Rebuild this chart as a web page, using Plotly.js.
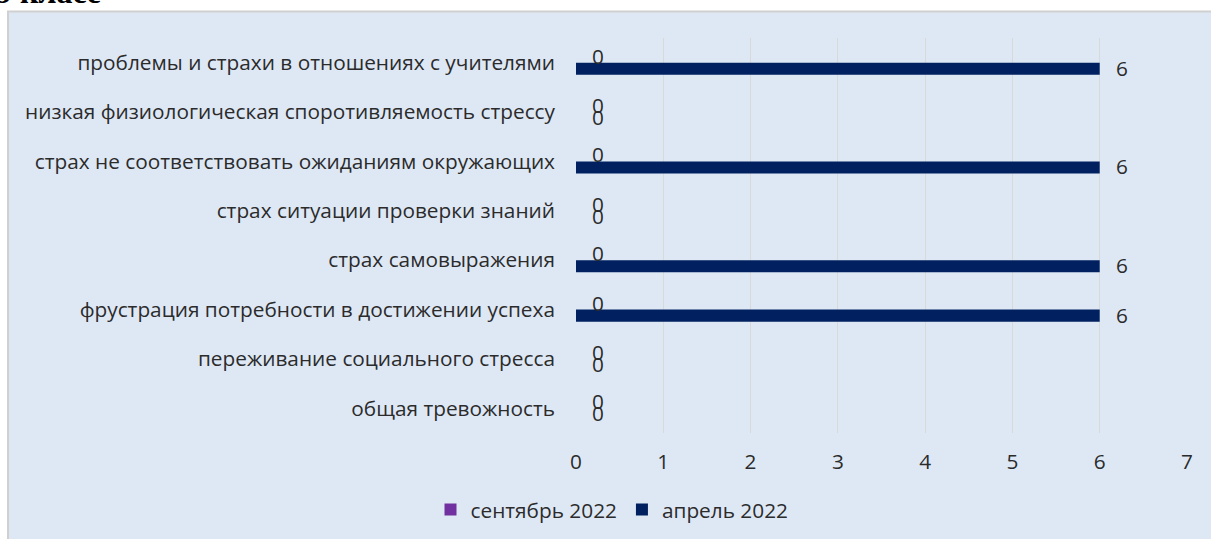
<!DOCTYPE html>
<html>
<head>
<meta charset="utf-8">
<script src="https://cdn.plot.ly/plotly-3.0.1.min.js"></script>
<style>
html,body{margin:0;padding:0;background:#fff;}
#chart{width:1211px;height:539px;}
</style>
</head>
<body>
<div id="chart"></div>
<script>
const categories = [
  "проблемы и страхи в отношениях с учителями",
  "низкая физиологическая споротивляемость стрессу",
  "страх не соответствовать ожиданиям окружающих",
  "страх ситуации проверки знаний",
  "страх самовыражения",
  "фрустрация потребности в достижении успеха",
  "переживание социального стресса",
  "общая тревожность"
];
const septValues = [0, 0, 0, 0, 0, 0, 0, 0];
const aprValues  = [6, 0, 6, 0, 6, 6, 0, 0];
const xTicks = [0, 1, 2, 3, 4, 5, 6, 7];
const seriesNames = ["сентябрь 2022", "апрель 2022"];
const headingText = "9 класс";

const FONT = "Open Sans, sans-serif";
const TXT = "#2b2b2b";
const FS = 20.8;

const W = 1211, H = 539;
const L = 576, R = 24, T = 38, B = 106;
const pw = W - L - R, ph = H - T - B;
const px2x = p => (p - L) / pw;
const py2y = p => (H - B - p) / ph;

const traces = [
  {type: "bar", orientation: "h", name: seriesNames[0], y: categories, x: septValues,
   marker: {color: "#7030a0"}, hoverinfo: "x+y"},
  {type: "bar", orientation: "h", name: seriesNames[1], y: categories, x: aprValues,
   marker: {color: "#002060"}, hoverinfo: "x+y"}
];

const annotations = [];
categories.forEach((c, i) => {
  annotations.push({x: septValues[i], y: c, xref: "x", yref: "y", text: String(septValues[i]),
    showarrow: false, xanchor: "left", yanchor: "middle", xshift: 14, yshift: 7,
    font: {family: FONT, size: FS, color: TXT}});
  annotations.push({x: aprValues[i], y: c, xref: "x", yref: "y", text: String(aprValues[i]),
    showarrow: false, xanchor: "left", yanchor: "middle", xshift: 14, yshift: -5,
    font: {family: FONT, size: FS, color: TXT}});
});
annotations.push({x: px2x(-6), y: py2y(12), xref: "paper", yref: "paper", text: "<b>" + headingText + "</b>",
  showarrow: false, xanchor: "left", yanchor: "bottom",
  font: {family: "Liberation Serif, serif", size: 32, color: "#000"}});

const layout = {
  width: W, height: H,
  margin: {l: L, r: R, t: T, b: B, pad: 0, autoexpand: false},
  paper_bgcolor: "#ffffff",
  plot_bgcolor: "rgba(0,0,0,0)",
  barmode: "group",
  bargap: 0.51,
  bargroupgap: 0,
  font: {family: FONT, size: FS, color: TXT},
  showlegend: true,
  legend: {orientation: "h", xref: "container", yref: "container",
    x: 612 / W, xanchor: "center", y: (H - 510) / H, yanchor: "middle",
    font: {family: FONT, size: FS, color: TXT},
    bgcolor: "rgba(0,0,0,0)", itemwidth: 30, traceorder: "normal"},
  xaxis: {range: [0, 7], tickvals: xTicks, ticktext: xTicks.map(String),
    showgrid: true, gridcolor: "#d9d9d9", gridwidth: 1, zeroline: false,
    showline: false, ticks: "", ticklabelstandoff: 14, fixedrange: true, automargin: false,
    tickfont: {family: FONT, size: FS, color: TXT}},
  yaxis: {type: "category", autorange: "reversed", showgrid: false, zeroline: false,
    showline: false, ticks: "", ticklabelstandoff: 20, fixedrange: true, automargin: false,
    tickfont: {family: FONT, size: FS, color: TXT}},
  shapes: [{type: "rect", xref: "paper", yref: "paper", layer: "below",
    x0: px2x(8), x1: px2x(1215), y0: py2y(545), y1: py2y(11.5),
    fillcolor: "#dee8f5", line: {color: "#d0d0d0", width: 2}}],
  annotations: annotations
};

Plotly.newPlot("chart", traces, layout, {displayModeBar: false, staticPlot: true});
</script>
</body>
</html>
